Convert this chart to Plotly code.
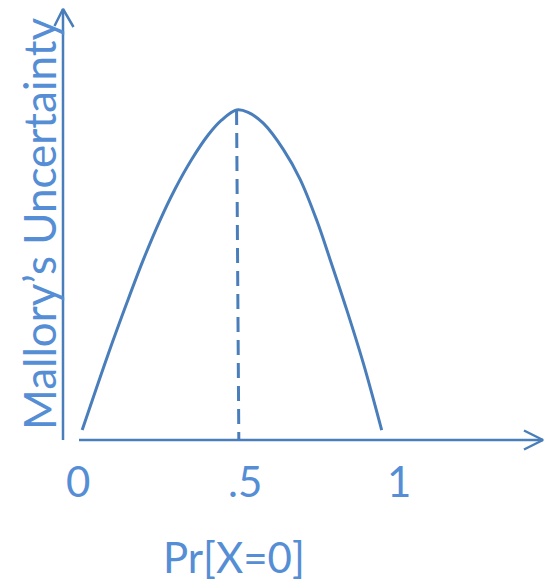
import plotly.graph_objects as go

# Probability of X=0 and the resulting uncertainty (peak normalised to 1)
p_values = [0.013, 0.094, 0.152, 0.203, 0.255, 0.302, 0.354, 0.406, 0.448, 0.494,
            0.530, 0.577, 0.640, 0.692, 0.744, 0.785, 0.837, 0.889, 0.946]
uncertainty = [0.030, 0.260, 0.415, 0.545, 0.665, 0.760, 0.850, 0.925, 0.970, 1.000,
               0.993, 0.960, 0.880, 0.790, 0.665, 0.548, 0.395, 0.232, 0.030]

peak_p = 0.494
peak_u = 1.0

tick_values = [0, 0.5, 1]
tick_labels = ["0", ".5", "1"]

x_title = "Pr[X=0]"
y_title = "Mallory\u2019s Uncertainty"

LINE = "#4A7EBB"
TEXT = "#558ED5"
FONT = "Lato"

W, H = 546, 581
# axis ranges chosen so that p=0 sits 78px from the left and u=0 sits 440px from the top
X_PER_PX = 1 / 321
Y_PER_PX = 1 / 330
x0 = -78 * X_PER_PX
x1 = x0 + W * X_PER_PX
y1 = 440 * Y_PER_PX
y0 = y1 - H * Y_PER_PX


def px_x(px):
    return x0 + px * X_PER_PX


def px_y(py):
    return y1 - py * Y_PER_PX


fig = go.Figure()

# curve
fig.add_trace(go.Scatter(x=p_values, y=uncertainty, mode="lines",
                         line=dict(color=LINE, width=3, shape="spline", smoothing=1.0),
                         hoverinfo="skip"))

# dashed drop line from the peak to the axis
fig.add_trace(go.Scatter(x=[peak_p, peak_p + 0.007], y=[peak_u, 0], mode="lines",
                         line=dict(color=LINE, width=3, dash="15px,8px"),
                         hoverinfo="skip"))

# axes with open arrowheads
axis_y_x = px_x(63)
axis_y_top = px_y(9)
axis_x_start = px_x(79)
axis_x_end = px_x(543)
fig.add_trace(go.Scatter(x=[axis_y_x, axis_y_x], y=[0, axis_y_top], mode="lines",
                         line=dict(color=LINE, width=2.5), hoverinfo="skip"))
fig.add_trace(go.Scatter(x=[px_x(54.5), axis_y_x, px_x(73.5)],
                         y=[px_y(26), axis_y_top, px_y(27)], mode="lines",
                         line=dict(color=LINE, width=2.5), hoverinfo="skip"))
fig.add_trace(go.Scatter(x=[axis_x_start, axis_x_end], y=[0, 0], mode="lines",
                         line=dict(color=LINE, width=2.5), hoverinfo="skip"))
fig.add_trace(go.Scatter(x=[px_x(524), axis_x_end, px_x(524)],
                         y=[px_y(430.5), 0, px_y(449.5)], mode="lines",
                         line=dict(color=LINE, width=2.5), hoverinfo="skip"))

annotations = []
for v, lab in zip(tick_values, tick_labels):
    annotations.append(dict(x=v, y=px_y(481), xref="x", yref="y", text=lab,
                            showarrow=False, xshift=6 if lab == ".5" else 0,
                            font=dict(family=FONT, size=42, color=TEXT)))
annotations.append(dict(x=px_x(234), y=px_y(557), xref="x", yref="y", text=x_title,
                        showarrow=False, font=dict(family=FONT, size=42, color=TEXT)))
annotations.append(dict(x=px_x(39), y=px_y(224), xref="x", yref="y", text=y_title,
                        textangle=-90, showarrow=False,
                        font=dict(family=FONT, size=44, color=TEXT)))

fig.update_layout(
    width=W, height=H,
    margin=dict(l=0, r=0, t=0, b=0),
    paper_bgcolor="white", plot_bgcolor="white",
    showlegend=False,
    xaxis=dict(range=[x0, x1], visible=False, fixedrange=True),
    yaxis=dict(range=[y0, y1], visible=False, fixedrange=True),
    annotations=annotations,
)

fig.write_html("out.html", config={"displayModeBar": False})
